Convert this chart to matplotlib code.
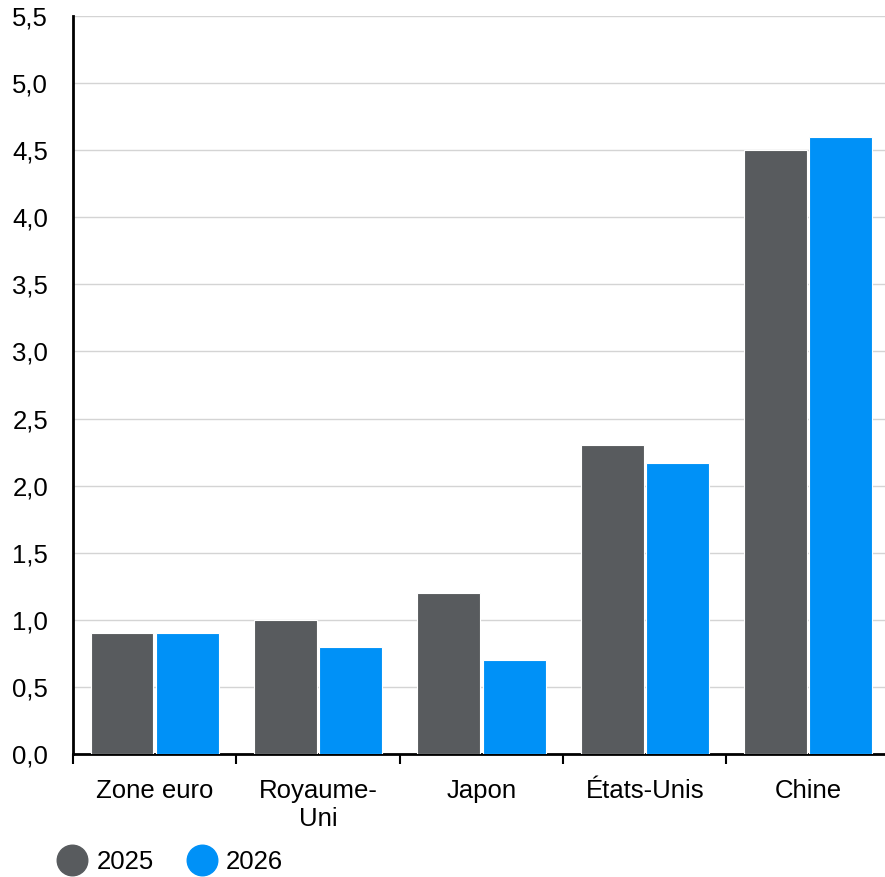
import matplotlib.pyplot as plt
from matplotlib.lines import Line2D

plt.rcParams['font.family'] = ['Liberation Sans', 'DejaVu Sans']

categories = ['Zone euro', 'Royaume-\nUni', 'Japon', 'États-Unis', 'Chine']
series_2025 = [0.9, 1.0, 1.2, 2.3, 4.5]
series_2026 = [0.9, 0.8, 0.7, 2.17, 4.6]
yticks = [0.0, 0.5, 1.0, 1.5, 2.0, 2.5, 3.0, 3.5, 4.0, 4.5, 5.0, 5.5]

col_2025 = '#585b5e'
col_2026 = '#0091f7'

fig = plt.figure(figsize=(8.85, 8.77), dpi=100)
# the plot area runs a little past the right edge of the image
ax = fig.add_axes([0.0825, 0.140, 0.923, 0.842])

x = list(range(len(categories)))
ax.bar([i - 0.2 for i in x], series_2025, width=0.385, color=col_2025,
       edgecolor='white', linewidth=0.8, zorder=3)
ax.bar([i + 0.2 for i in x], series_2026, width=0.385, color=col_2026,
       edgecolor='white', linewidth=0.8, zorder=3)

ax.set_xlim(-0.5, len(categories) - 0.5)
ax.set_ylim(0, 5.5)
ax.set_yticks(yticks)
ax.set_yticklabels([f'{v:.1f}'.replace('.', ',') for v in yticks], fontsize=18.5)
ax.tick_params(axis='y', length=0, pad=18)
ax.yaxis.grid(True, color='#d4d4d4', linewidth=1, zorder=0)
ax.set_axisbelow(True)

# group separators as major ticks, labels on minor ticks
ax.set_xticks([i - 0.5 for i in range(len(categories))])
ax.set_xticklabels([])
ax.tick_params(axis='x', which='major', length=7, width=1.5, direction='out')
ax.set_xticks(x, minor=True)
ax.set_xticklabels(categories, minor=True, fontsize=18.5, linespacing=1.2)
ax.tick_params(axis='x', which='minor', length=0, pad=18)

for s in ['top', 'right']:
    ax.spines[s].set_visible(False)
ax.spines['left'].set_linewidth(2)
ax.spines['bottom'].set_linewidth(2)

handles = [
    Line2D([], [], marker='o', linestyle='', markersize=22, color=col_2025),
    Line2D([], [], marker='o', linestyle='', markersize=22, color=col_2026),
]
fig.legend(handles, ['2025', '2026'], loc='center left',
           bbox_to_anchor=(0.0645, 0.017), ncol=2, frameon=False,
           fontsize=18.5, handletextpad=0.35, columnspacing=1.25,
           handlelength=1.2, borderaxespad=0, borderpad=0)

fig.savefig('out.png', dpi=100)
